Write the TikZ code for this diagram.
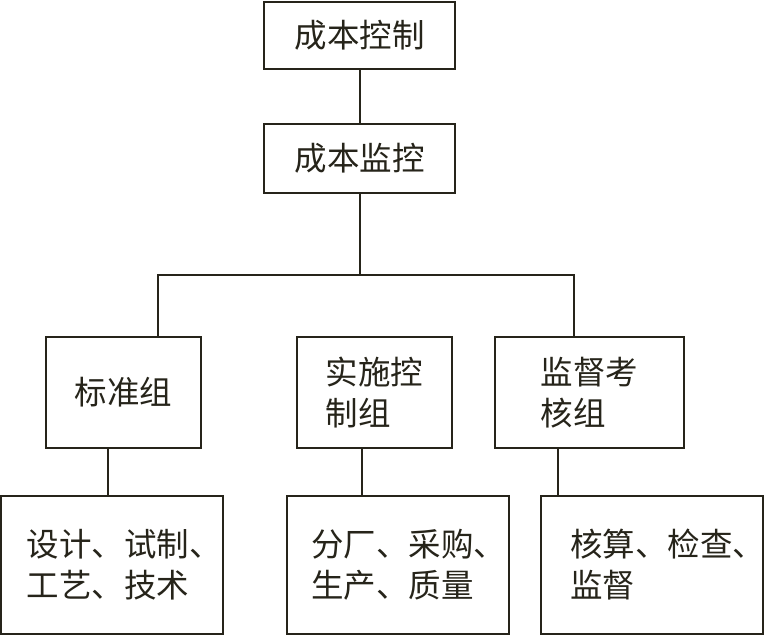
\documentclass[tikz,border=0pt]{standalone}
\usepackage{fontspec}
\newfontfamily\cjk{Noto Sans CJK SC}
\usetikzlibrary{calc}
\definecolor{ink}{RGB}{38,36,26}

\begin{document}
\begin{tikzpicture}[x=1pt, y=-1pt, line width=2pt, color=ink,
	box/.style={draw, rectangle, inner sep=0pt, align=left, text=ink,
		font=\cjk\fontsize{32.5pt}{41pt}\selectfont},
	head/.style={box, minimum width=191pt},
	group/.style={box, minimum height=111pt},
	leaf/.style={box, minimum height=138pt, minimum width=222pt}]
	\useasboundingbox (0, 0) rectangle (764, 636);

	\node[head, minimum height=67pt] (ctrl) at (359.5, 35.5) {成本控制};
	\node[head, minimum height=69pt] (mon) at (359.5, 158.5) {成本监控};

	\node[group, minimum width=155pt] (std) at (123.5, 392.5) {标准组};
	\node[group, minimum width=155pt] (impl) at (374.5, 392.5) {实施控\\制组};
	\node[group, minimum width=189pt] (sup) at (589.5, 392.5) {监督考\\核组};

	\node[leaf, inner xsep=26pt, text width=170pt] (leaf1) at (112, 565) {设计、试制、\\工艺、技术};
	\node[leaf, inner xsep=24pt, text width=174pt] (leaf2) at (398, 565) {分厂、采购、\\生产、质量};
	\node[leaf, inner xsep=29pt, text width=164pt] (leaf3) at (652, 565) {核算、检查、\\监督};

	\draw (ctrl) -- (mon);
	\coordinate (busL) at (158, 275);
	\coordinate (busR) at (574, 275);
	\draw (mon) -- (mon |- busL);
	\draw (std.north -| busL) -- (busL) -- (busR) -- (sup.north -| busR);

	\coordinate (s1) at ($(std.south) + (-15.5, 0)$);
	\coordinate (s2) at ($(impl.south) + (-12.5, 0)$);
	\coordinate (s3) at ($(sup.south) + (-31.5, 0)$);
	\draw (s1) -- (s1 |- leaf1.north);
	\draw (s2) -- (s2 |- leaf2.north);
	\draw (s3) -- (s3 |- leaf3.north);
\end{tikzpicture}
\end{document}
